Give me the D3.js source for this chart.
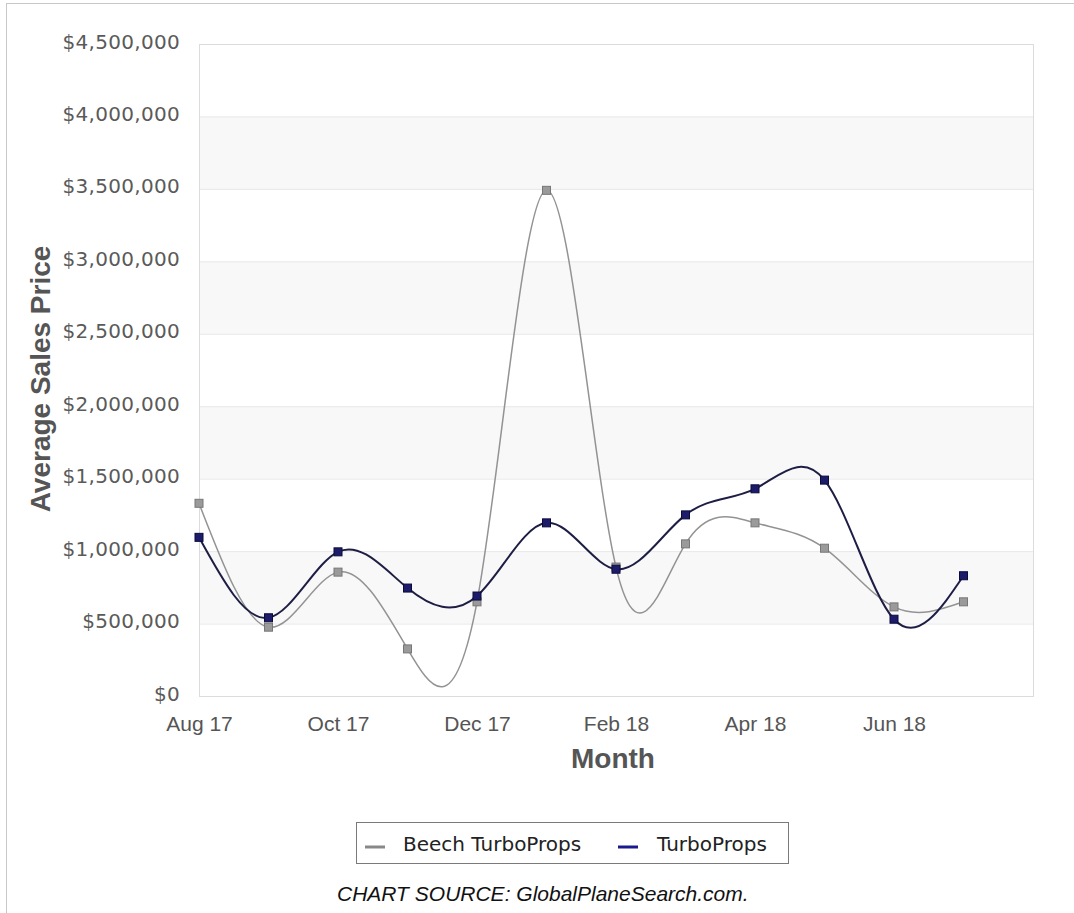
<!DOCTYPE html>
<html>
<head>
<meta charset="utf-8">
<script src="https://cdn.jsdelivr.net/npm/d3@7"></script>
<style>
  body { margin: 0; background: #fff; }
  svg { display: block; }
</style>
</head>
<body>
<div id="chart"></div>
<script>
// données
const months = ["Aug 17", "Sep 17", "Oct 17", "Nov 17", "Dec 17", "Jan 18",
                "Feb 18", "Mar 18", "Apr 18", "May 18", "Jun 18", "Jul 18"];
const beechTurboProps = [1330000, 475000, 855000, 325000, 650000, 3490000,
                         890000, 1050000, 1195000, 1020000, 615000, 650000];
const turboProps = [1095000, 540000, 995000, 745000, 690000, 1195000,
                    875000, 1250000, 1430000, 1490000, 530000, 830000];
const yTicks = [0, 500000, 1000000, 1500000, 2000000, 2500000, 3000000, 3500000, 4000000, 4500000];
const xTickIndex = [0, 2, 4, 6, 8, 10];
const seriesNames = ["Beech TurboProps", "TurboProps"];

const width = 1074, height = 913;
const plotLeft = 199, plotRight = 1033, plotTop = 44, plotBottom = 696;

const svg = d3.select("#chart").append("svg")
  .attr("width", width)
  .attr("height", height);

// cadre extérieur
svg.append("rect")
  .attr("x", 6.5).attr("y", 3.5)
  .attr("width", 1200).attr("height", 1000)
  .attr("fill", "none")
  .attr("stroke", "#c8c8c8");

// échelles
const x = d3.scaleLinear().domain([0, 12]).range([plotLeft, plotRight]);
const y = d3.scaleLinear().domain([0, 4500000]).range([plotBottom, plotTop]);

// bandes alternées
const bands = yTicks.slice(0, -1).filter((d, i) => i % 2 === 1);
svg.append("g").selectAll("rect")
  .data(bands)
  .enter()
  .append("rect")
  .attr("x", plotLeft)
  .attr("y", d => y(d + 500000))
  .attr("width", plotRight - plotLeft)
  .attr("height", d => y(d) - y(d + 500000))
  .attr("fill", "#f8f8f8");

// lignes de grille
const grid = svg.append("g")
  .attr("transform", `translate(${plotLeft},0)`)
  .call(d3.axisLeft(y).tickValues(yTicks).tickSize(-(plotRight - plotLeft)).tickFormat(""));
grid.select(".domain").remove();
grid.selectAll("line").attr("stroke", "#e8e8e8");

// cadre de la zone de tracé
svg.append("rect")
  .attr("x", plotLeft + 0.5).attr("y", plotTop + 0.5)
  .attr("width", plotRight - plotLeft).attr("height", plotBottom - plotTop)
  .attr("fill", "none")
  .attr("stroke", "#dcdcdc");

// axe y
const yAxis = svg.append("g")
  .attr("transform", `translate(${plotLeft},0)`)
  .call(d3.axisLeft(y).tickValues(yTicks).tickFormat(d3.format("$,")).tickSize(0).tickPadding(19));
yAxis.select(".domain").remove();
yAxis.selectAll("text")
  .attr("dy", "0.2em")
  .style("font-family", "'DejaVu Sans', sans-serif")
  .style("font-size", "20px")
  .style("letter-spacing", "0.3px")
  .attr("fill", "#5a5a5a");

// axe x
const xAxis = svg.append("g")
  .attr("transform", `translate(0,${plotBottom})`)
  .call(d3.axisBottom(x).tickValues(xTickIndex).tickFormat(i => months[i]).tickSize(0).tickPadding(20));
xAxis.select(".domain").remove();
xAxis.selectAll("text")
  .style("font-family", "'Liberation Sans', Arial, sans-serif")
  .style("font-size", "21px")
  .attr("fill", "#555");

// titres des axes
svg.append("text")
  .attr("transform", "rotate(-90)")
  .attr("x", -379)
  .attr("y", 50)
  .attr("text-anchor", "middle")
  .style("font-family", "'Liberation Sans', Arial, sans-serif")
  .style("font-size", "28px")
  .style("font-weight", "bold")
  .attr("fill", "#555")
  .text("Average Sales Price");

svg.append("text")
  .attr("x", 613)
  .attr("y", 768)
  .attr("text-anchor", "middle")
  .style("font-family", "'Liberation Sans', Arial, sans-serif")
  .style("font-size", "28px")
  .style("font-weight", "bold")
  .attr("fill", "#555")
  .text("Month");

// séries
const series = [
  { name: seriesNames[0], values: beechTurboProps, line: "#939393", width: 1.5, fill: "#9a9a9a", stroke: "#777", key: "#888" },
  { name: seriesNames[1], values: turboProps, line: "#1e1e45", width: 2, fill: "#1c1c6a", stroke: "#0b0b3a", key: "#1a1a8c" }
];

const line = d3.line()
  .x((d, i) => x(i))
  .y(d => y(d))
  .curve(d3.curveNatural);

series.forEach(function(s) {
  svg.append("path")
    .datum(s.values)
    .attr("d", line)
    .attr("fill", "none")
    .attr("stroke", s.line)
    .attr("stroke-width", s.width);

  svg.append("g").selectAll("rect")
    .data(s.values)
    .enter()
    .append("rect")
    .attr("x", (d, i) => x(i) - 4)
    .attr("y", d => y(d) - 4)
    .attr("width", 8)
    .attr("height", 8)
    .attr("fill", s.fill)
    .attr("stroke", s.stroke)
    .attr("stroke-width", 1);
});

// légende
const legend = svg.append("g");
legend.append("rect")
  .attr("x", 356.5).attr("y", 822.5)
  .attr("width", 432).attr("height", 41)
  .attr("fill", "#fff")
  .attr("stroke", "#7a7a7a");

const keyX = [365, 618];
const labelX = [403, 657];
series.forEach(function(s, i) {
  legend.append("line")
    .attr("x1", keyX[i]).attr("x2", keyX[i] + 20)
    .attr("y1", 847).attr("y2", 847)
    .attr("stroke", s.key)
    .attr("stroke-width", 3);
  legend.append("text")
    .attr("x", labelX[i])
    .attr("y", 851)
    .style("font-family", "'DejaVu Sans', sans-serif")
    .style("font-size", "20px")
    .attr("fill", "#222")
    .text(s.name);
});

// source
svg.append("text")
  .attr("x", 337)
  .attr("y", 901)
  .style("font-family", "'Liberation Sans', Arial, sans-serif")
  .style("font-size", "21px")
  .style("font-style", "italic")
  .attr("fill", "#111")
  .text("CHART SOURCE: GlobalPlaneSearch.com.");
</script>
</body>
</html>
